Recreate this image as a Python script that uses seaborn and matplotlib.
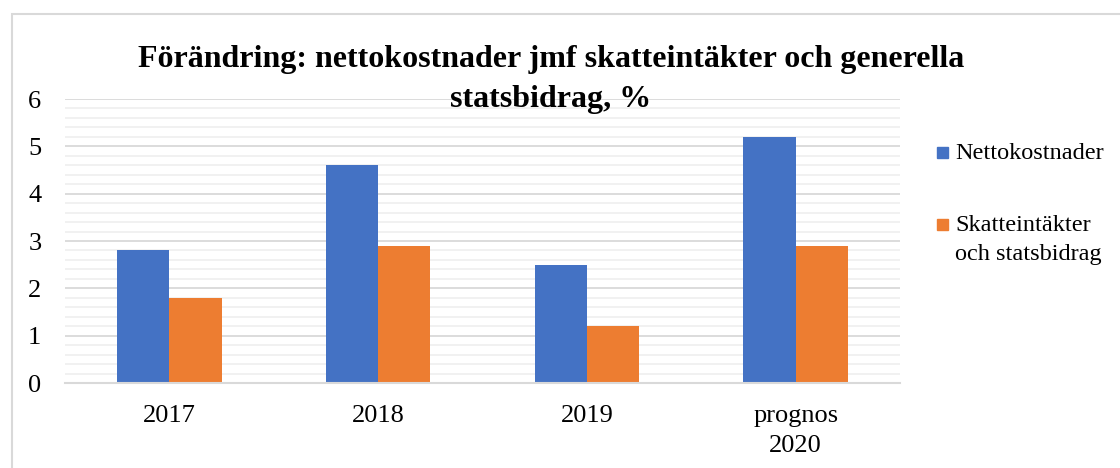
import matplotlib
matplotlib.use("Agg")
import matplotlib.pyplot as plt
import seaborn as sns
import pandas as pd
from matplotlib.ticker import MultipleLocator
from matplotlib.patches import Rectangle

categories = ["2017", "2018", "2019", "prognos\n2020"]
series_names = ["Nettokostnader", "Skatteintäkter\noch statsbidrag"]
netto = [2.8, 4.6, 2.5, 5.2]
skatt = [1.8, 2.9, 1.2, 2.9]
colors = ["#4472C4", "#ED7D31"]
title = "Förändring: nettokostnader jmf skatteintäkter och generella\nstatsbidrag, %"

df = pd.DataFrame({
    "kategori": categories * 2,
    "serie": [series_names[0]] * len(categories) + [series_names[1]] * len(categories),
    "varde": netto + skatt,
})

sns.set_theme(style="white")
plt.rcParams["font.family"] = ["Liberation Serif", "DejaVu Serif"]
plt.rcParams["text.color"] = "black"

fig = plt.figure(figsize=(11.2, 4.68), dpi=100)
ax = fig.add_axes([65/1120, 1 - 383/468, (900-65)/1120, (383-99)/468])

sns.barplot(data=df, x="kategori", y="varde", hue="serie", palette=colors,
            ax=ax, width=0.5, saturation=1, edgecolor="none", legend=False)

ax.set_ylim(0, 6)
ax.set_xlim(-0.5, 3.5)
ax.yaxis.set_major_locator(MultipleLocator(1))
ax.yaxis.set_minor_locator(MultipleLocator(0.2))
ax.grid(which="major", axis="y", color="#d9d9d9", linewidth=1.3)
ax.grid(which="minor", axis="y", color="#f0f0f0", linewidth=1.3)
ax.grid(which="major", axis="x", visible=False)
ax.set_axisbelow(True)
for s in ["left", "right", "top"]:
    ax.spines[s].set_visible(False)
ax.spines["bottom"].set_color("#d9d9d9")
ax.spines["bottom"].set_linewidth(1.5)
ax.set_xlabel("")
ax.set_ylabel("")
ax.tick_params(axis="x", length=0, pad=16, labelsize=19, colors="black")
ax.tick_params(axis="y", which="both", length=0, pad=17, labelsize=19, colors="black")
for lab in ax.get_xticklabels():
    lab.set_linespacing(1.45)

fig.text(551/1120, 1 - 79/468, title, ha="center", va="center",
         fontsize=23, fontweight="bold", linespacing=1.5, color="black")

# legend
leg_y = [152, 224]
for c, name, y in zip(colors, series_names, leg_y):
    fig.patches.append(Rectangle((937/1120, 1 - (y + 6)/468), 11/1120, 11/468,
                                 transform=fig.transFigure, color=c))
    fig.text(955/1120, 1 - (y - 9)/468, name, ha="left", va="top",
             fontsize=17.5, linespacing=1.5, color="black")

# outer frame
fig.patches.append(Rectangle((12/1120, -0.05), 1.2, 1 - 14/468 + 0.05,
                             transform=fig.transFigure, fill=False,
                             edgecolor="#d9d9d9", linewidth=1.5))

fig.savefig("out.png", dpi=100)
